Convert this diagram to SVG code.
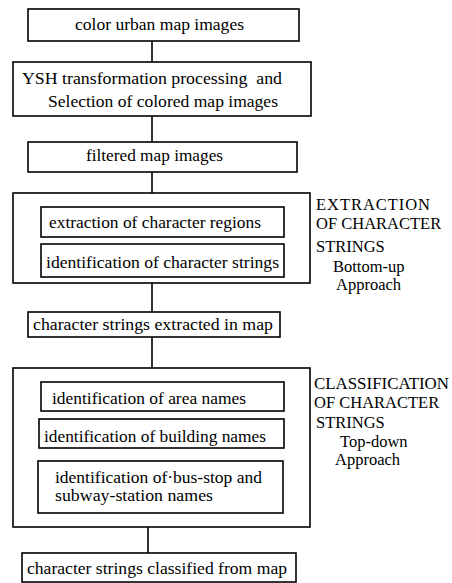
<svg xmlns="http://www.w3.org/2000/svg" width="452" height="583" viewBox="0 0 452 583">
<style>
.box{fill:#fff;stroke:#000;stroke-width:1.6}
.grp{fill:none;stroke:#000;stroke-width:1.6}
.ln{stroke:#000;stroke-width:1.6;fill:none}
text{font-family:"Liberation Serif","Times New Roman",serif;font-size:16px;fill:#000}
.side{font-size:16.5px}
</style>
<rect width="452" height="583" fill="#fff"/>
<g id="connectors">
<line class="ln" x1="152" y1="41" x2="152" y2="62"/>
<line class="ln" x1="152" y1="116" x2="152" y2="142"/>
<line class="ln" x1="152" y1="172" x2="152" y2="193"/>
<line class="ln" x1="152" y1="283" x2="152" y2="312"/>
<line class="ln" x1="152" y1="337" x2="152" y2="368"/>
<line class="ln" x1="148" y1="527" x2="148" y2="553"/>
</g>
<g id="n1">
<rect class="box" x="28" y="9" width="271" height="32"/>
<text x="75" y="30" textLength="169" lengthAdjust="spacingAndGlyphs">color urban map images</text>
</g>
<g id="n2">
<rect class="box" x="13" y="62" width="298" height="54"/>
<text x="22" y="84" textLength="260" lengthAdjust="spacingAndGlyphs" xml:space="preserve">YSH transformation processing  and</text>
<text x="48" y="107" textLength="230" lengthAdjust="spacingAndGlyphs">Selection of colored map images</text>
</g>
<g id="n3">
<rect class="box" x="28" y="142" width="269" height="30"/>
<text x="86" y="161" textLength="137" lengthAdjust="spacingAndGlyphs">filtered map images</text>
</g>
<g id="extraction">
<rect class="grp" x="13" y="193" width="297" height="90"/>
<text class="side" x="316" y="210" textLength="114" lengthAdjust="spacing">EXTRACTION</text>
<text class="side" x="316" y="229">OF CHARACTER</text>
<text class="side" x="316" y="252">STRINGS</text>
<text class="side" x="333" y="272">Bottom-up</text>
<text class="side" x="336" y="290">Approach</text>
</g>
<g id="n4">
<rect class="box" x="41" y="207" width="243" height="30"/>
<text x="49" y="228" textLength="212" lengthAdjust="spacingAndGlyphs">extraction of character regions</text>
</g>
<g id="n5">
<rect class="box" x="41" y="244" width="243" height="33"/>
<text x="46" y="268" textLength="233" lengthAdjust="spacingAndGlyphs">identification of character strings</text>
</g>
<g id="n6">
<rect class="box" x="28" y="312" width="252" height="25"/>
<text x="33" y="330" textLength="240" lengthAdjust="spacingAndGlyphs">character strings extracted in map</text>
</g>
<g id="classification">
<rect class="grp" x="13" y="368" width="297" height="159"/>
<text class="side" x="314" y="389" textLength="135" lengthAdjust="spacingAndGlyphs">CLASSIFICATION</text>
<text class="side" x="314" y="408">OF CHARACTER</text>
<text class="side" x="316" y="428">STRINGS</text>
<text class="side" x="340" y="447">Top-down</text>
<text class="side" x="335" y="465">Approach</text>
</g>
<g id="n7">
<rect class="box" x="41" y="382" width="243" height="29"/>
<text x="52" y="404" textLength="194" lengthAdjust="spacingAndGlyphs">identification of area names</text>
</g>
<g id="n8">
<rect class="box" x="39" y="419" width="245" height="29"/>
<text x="44" y="442" textLength="222" lengthAdjust="spacingAndGlyphs">identification of building names</text>
</g>
<g id="n9">
<rect class="box" x="38" y="461" width="245" height="52"/>
<text x="55" y="483" textLength="207" lengthAdjust="spacingAndGlyphs">identification of·bus-stop and</text>
<text x="55" y="501" textLength="158" lengthAdjust="spacingAndGlyphs">subway-station names</text>
</g>
<g id="n10">
<rect class="box" x="22" y="553" width="274" height="29"/>
<text x="27" y="574" textLength="260" lengthAdjust="spacingAndGlyphs">character strings classified from map</text>
</g>
</svg>
